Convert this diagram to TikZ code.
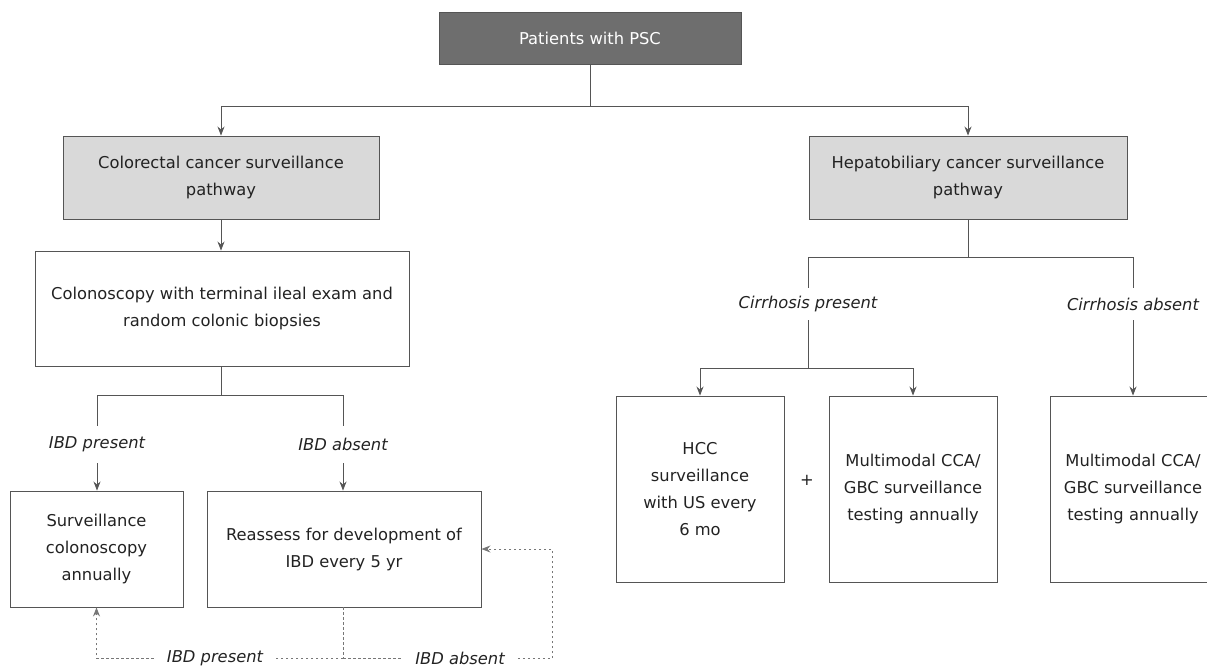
\documentclass[tikz,border=0pt]{standalone}
\usepackage{fontspec}
\setmainfont{DejaVu Sans}
\usetikzlibrary{arrows.meta}
\definecolor{topgray}{HTML}{6E6E6E}
\definecolor{pathgray}{HTML}{D9D9D9}
\definecolor{linegray}{HTML}{555555}
\definecolor{txtgray}{HTML}{222222}
\tikzset{
  box/.style={draw=linegray, line width=0.9pt, align=center, inner sep=0pt,
    text=txtgray, font=\fontsize{16.3}{27}\selectfont},
  topbox/.style={box, fill=topgray, text=white},
  pathbox/.style={box, fill=pathgray},
  branch/.style={align=center, inner sep=0pt, text=txtgray,
    font=\fontsize{16.3}{27}\selectfont\itshape},
  conn/.style={draw=linegray, line width=0.9pt},
  arr/.style={conn, -{Stealth[length=9pt,width=7pt]}},
  loop/.style={draw=linegray!80, line width=0.9pt, dash pattern=on 2.5pt off 2.5pt},
  looparr/.style={loop, -{Stealth[length=9pt,width=7pt]}}
}
\begin{document}
\begin{tikzpicture}[x=1pt,y=-1pt]
    \useasboundingbox (0,0) rectangle (1207,666);
    \clip (0,0) rectangle (1207,666);

    \node[topbox, minimum width=302pt, minimum height=52pt] (psc) at (590,38) {Patients with PSC};
    \node[pathbox, minimum width=316pt, minimum height=83pt] (crc) at (221,177.5) {Colorectal cancer surveillance\\pathway};
    \node[pathbox, minimum width=318pt, minimum height=83pt] (hep) at (968,177.5) {Hepatobiliary cancer surveillance\\pathway};

    \node[box, minimum width=374pt, minimum height=115pt] (colo) at (222,308.5) {Colonoscopy with terminal ileal exam and\\random colonic biopsies};
    \node[branch, minimum height=37pt] (ibdp) at (97,444.5) {IBD present};
    \node[branch, minimum height=37pt] (ibda) at (343,444.5) {IBD absent};
    \node[box, minimum width=173pt, minimum height=116pt] (surv) at (96.5,549) {Surveillance\\colonoscopy\\annually};
    \node[box, minimum width=274pt, minimum height=116pt] (reas) at (344,549) {Reassess for development of\\IBD every 5 yr};
    \node[branch, inner xsep=13pt] (dibdp) at (215,658) {IBD present};
    \node[branch, inner xsep=13pt] (dibda) at (460,658) {IBD absent};

    \node[branch, minimum height=32pt] (cirp) at (808,304) {Cirrhosis present};
    \node[branch, minimum height=32pt] (cira) at (1133,304) {Cirrhosis absent};
    \node[box, minimum width=168pt, minimum height=186pt] (hcc) at (700,489) {HCC\\surveillance\\with US every\\6 mo};
    \node[font=\fontsize{16.3}{27}\selectfont, text=txtgray] (plus) at (807,480) {+};
    \node[box, minimum width=168pt, minimum height=186pt] (mmp) at (913,489) {Multimodal CCA/\\GBC surveillance\\testing annually};
    \node[box, minimum width=166pt, minimum height=186pt] (mma) at (1133,489) {Multimodal CCA/\\GBC surveillance\\testing annually};

    \coordinate (top split) at (590,106);
    \coordinate (colo split) at (221,395);
    \coordinate (hep split) at (968,257);
    \coordinate (cirp split) at (808,368);
    \coordinate (loop join) at (343,658);
    \coordinate (loop corner) at (552,658);

    \draw[conn] (psc) -- (top split);
    \draw[arr] (top split) -| (crc.north);
    \draw[arr] (top split) -| (hep.north);

    \draw[arr] (crc.south) -- (crc.south |- colo.north);
    \draw[conn] (colo.south -| colo split) -- (colo split);
    \draw[conn] (colo split) -| (ibdp.north);
    \draw[conn] (colo split) -| (ibda.north);
    \draw[arr] (ibdp.south) -- (ibdp.south |- surv.north);
    \draw[arr] (ibda.south) -- (ibda.south |- reas.north);

    \draw[loop] (reas.south -| loop join) -- (loop join);
    \draw[loop] (loop join) -- (dibdp.east);
    \draw[looparr] (dibdp.west) -| (surv.south);
    \draw[loop] (loop join) -- (dibda.west);
    \draw[loop] (dibda.east) -- (loop corner);
    \draw[looparr] (loop corner) |- (reas.east);

    \draw[conn] (hep.south) -- (hep split);
    \draw[conn] (hep split) -| (cirp.north);
    \draw[conn] (hep split) -| (cira.north);
    \draw[conn] (cirp.south) -- (cirp split);
    \draw[arr] (cirp split) -| (hcc.north);
    \draw[arr] (cirp split) -| (mmp.north);
    \draw[arr] (cira.south) -- (mma.north);
\end{tikzpicture}
\end{document}
